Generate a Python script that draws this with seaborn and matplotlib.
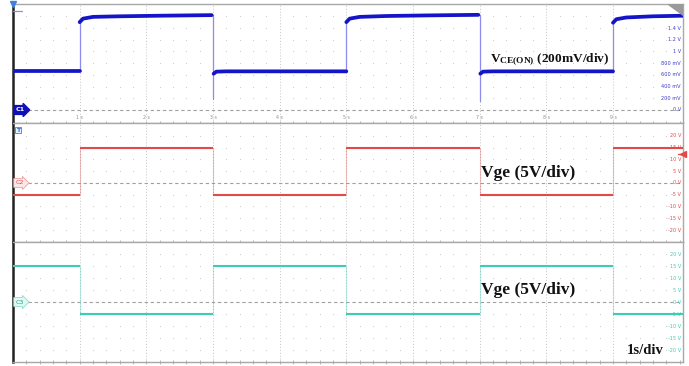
import numpy as np
import pandas as pd
import matplotlib
matplotlib.use("Agg")
import matplotlib.pyplot as plt
import seaborn as sns

# ---- data ----
sec_ticks = [1, 2, 3, 4, 5, 6, 7, 8, 9]
sec_labels = ["1 s", "2 s", "3 s", "4 s", "5 s", "6 s", "7 s", "8 s", "9 s"]

# channel 1: Vce(on)
vce_ticks = [1.4, 1.2, 1.0, 0.8, 0.6, 0.4, 0.2, 0.0]
vce_tick_labels = ["1.4 V", "1.2 V", "1 V", "800 mV", "600 mV", "400 mV", "200 mV", "0 V"]
vce_low = 0.66
vce_low_t = [[0.0, 1.0], [3.01, 3.05, 3.2, 5.0], [7.01, 7.05, 7.2, 9.0]]
vce_low_v = [[0.66, 0.66], [0.62, 0.655, 0.66, 0.66], [0.62, 0.655, 0.66, 0.66]]
vce_hi_t = [[1.0, 1.05, 1.2, 1.6, 2.2, 2.98],
            [5.0, 5.05, 5.2, 5.6, 6.2, 6.98],
            [9.0, 9.05, 9.2, 9.6, 10.05]]
vce_hi_v = [[1.50, 1.56, 1.59, 1.60, 1.61, 1.62],
            [1.50, 1.56, 1.59, 1.605, 1.615, 1.625],
            [1.49, 1.55, 1.58, 1.60, 1.61]]
vce_edge_t = [1.0, 3.0, 5.0, 7.0, 9.0]
vce_edge_lo = [0.66, 0.19, 0.66, 0.16, 0.66]
vce_edge_hi = [1.50, 1.62, 1.50, 1.625, 1.49]

# channel 2 / 3: Vge
vge_ticks = [20, 15, 10, 5, 0, -5, -10, -15, -20]
vge_tick_labels = ["20 V", "15 V", "10 V", "5 V", "0 V", "-5 V", "-10 V", "-15 V", "-20 V"]
edges = [0, 1, 3, 5, 7, 9, 10.05]
vge2_levels = [-5, 15, -5, 15, -5, 15]
vge3_levels = [15, -5, 15, -5, 15, -5]

BLUE = "#1414c8"
RED = "#e04a4a"
TEAL = "#3ccdb4"
GRID = "#c4c4c4"

sns.set_theme(style="white")
plt.rcParams["mathtext.fontset"] = "custom"
plt.rcParams["mathtext.bf"] = "Liberation Serif:bold"
plt.rcParams["mathtext.rm"] = "Liberation Serif"

fig = plt.figure(figsize=(6.89, 3.66), dpi=100)
W, H = 689, 366
left, width = 13 / W, 670 / W
ax1 = fig.add_axes([left, 1 - 123 / H, width, 119 / H])
ax2 = fig.add_axes([left, 1 - 242 / H, width, 119 / H])
ax3 = fig.add_axes([left, 1 - 362 / H, width, 120 / H])

ax1.set_ylim(-0.222, 1.81)
ax2.set_ylim(-25.1, 25.5)
ax3.set_ylim(-25, 25)


def style_panel(ax, rows):
    ax.set_xlim(0, 10.05)
    for s in ["top", "right", "bottom"]:
        ax.spines[s].set_color("#a8a8a8")
        ax.spines[s].set_linewidth(1.0)
    ax.spines["left"].set_color("#222222")
    ax.spines["left"].set_linewidth(1.8)
    ax.set_yticks([])
    ax.set_xticks(np.arange(0.2, 10.05, 0.2))
    ax.tick_params(axis="x", direction="inout", length=3, width=0.6,
                   colors="#a8a8a8", labelbottom=False, bottom=True)
    ax.grid(False)
    for s in sec_ticks:
        ax.axvline(s, color=GRID, lw=0.7, ls=(0, (1, 2)), zorder=1)
    xs = [x for x in np.arange(0.2, 10.0, 0.2) if abs(x - round(x)) > 0.05]
    gx, gy = np.meshgrid(xs, rows)
    ax.scatter(gx.ravel(), gy.ravel(), s=0.6, color=GRID, lw=0, zorder=1)
    ax.plot([0.22, 10.0], [0, 0], color="#a0a0a0", lw=0.8, ls=(0, (3, 2.5)), zorder=1)


style_panel(ax1, [0.2, 0.4, 0.6, 0.8, 1.0, 1.2, 1.4, 1.6])
style_panel(ax2, [-20, -15, -10, -5, 5, 10, 15, 20])
style_panel(ax3, [-20, -15, -10, -5, 5, 10, 15, 20])

# ---- channel 1 trace ----
for t, lo, hi in zip(vce_edge_t, vce_edge_lo, vce_edge_hi):
    ax1.plot([t, t], [min(lo, vce_low), hi], color="#8c8cf0", lw=0.9, zorder=2)
rows = []
for i, (ts, vs) in enumerate(zip(vce_low_t + vce_hi_t, vce_low_v + vce_hi_v)):
    rows += [{"t": a, "v": b, "seg": i} for a, b in zip(ts, vs)]
df1 = pd.DataFrame(rows)
sns.lineplot(data=df1, x="t", y="v", units="seg", estimator=None, sort=False,
             color=BLUE, lw=2.7, ax=ax1, zorder=3)
ax1.set_xlabel("")
ax1.set_ylabel("")


def draw_step(ax, levels, color):
    tt, vv = [], []
    for i, lv in enumerate(levels):
        tt += [edges[i], edges[i + 1]]
        vv += [lv, lv]
    ax.plot(tt, vv, color=color, lw=0.8, alpha=0.35, zorder=2)
    ax.hlines(levels, edges[:-1], edges[1:], color=color, lw=1.5, zorder=3)


draw_step(ax2, vge2_levels, RED)
draw_step(ax3, vge3_levels, TEAL)

# ---- right-hand scale labels ----
for ax, ticks, labels, col in [(ax1, vce_ticks, vce_tick_labels, "#3c3cd0"),
                               (ax2, vge_ticks, vge_tick_labels, RED),
                               (ax3, vge_ticks, vge_tick_labels, TEAL)]:
    for v, lab in zip(ticks, labels):
        ax.text(10.02, v, lab, ha="right", va="center", fontsize=3.6, color=col, zorder=5)

for s, lab in zip(sec_ticks, sec_labels):
    ax1.text(s, -0.135, lab, ha="center", va="center", fontsize=3.4, color="#909090")

# ---- channel markers ----
ax1.text(0.04, 0, "C1", fontsize=4.6, color="white", fontweight="bold", va="center",
         bbox=dict(boxstyle="rarrow,pad=0.3", fc="#1010b8", ec="#1010b8"))
ax2.text(0.04, 0, "C2", fontsize=4.6, color=RED, va="center",
         bbox=dict(boxstyle="rarrow,pad=0.3", fc="#fde6e6", ec="#f0a0a0", lw=0.6))
ax3.text(0.04, 0, "C3", fontsize=4.6, color="#2a9d8a", va="center",
         bbox=dict(boxstyle="rarrow,pad=0.3", fc="#e2f8f4", ec="#90dccd", lw=0.6))
ax2.text(0.05, 22.5, "T", fontsize=4.5, color="#2a6fd0", va="center", fontweight="bold",
         bbox=dict(boxstyle="square,pad=0.15", fc="#e8f1ff", ec="#3c82e0", lw=0.6))
ax2.plot([10.05], [12.3], marker="<", color=RED, ms=4, clip_on=False, zorder=6)
ax2.plot([9.98, 10.05], [12.3, 12.3], color=RED, lw=1.0, zorder=6)
ax1.plot([0.0], [1.81], marker="v", color="#3c82e0", ms=4, clip_on=False, zorder=6)
ax1.plot([0.0, 0.13], [1.69, 1.69], color="#8c8cf0", lw=0.9, zorder=6)
ax1.fill([9.83, 10.05, 10.05], [1.81, 1.81, 1.62], color="#9a9a9a", zorder=6)

# ---- annotations ----
ax1.text(7.15, 0.82, r"$\mathbf{V_{CE(ON)}}$ (200mV/div)", fontsize=9.6,
         family="Liberation Serif", fontweight="bold", va="baseline", color="#111111")
ax2.text(7.02, 2.6, "Vge (5V/div)", fontsize=12.5, family="Liberation Serif",
         fontweight="bold", va="baseline", color="#111111")
ax3.text(7.02, 3.3, "Vge (5V/div)", fontsize=12.5, family="Liberation Serif",
         fontweight="bold", va="baseline", color="#111111")
ax3.text(9.21, -21.8, "1s/div", fontsize=10.5, family="Liberation Serif",
         fontweight="bold", va="baseline", color="#111111")

fig.savefig("out.png", dpi=100)
